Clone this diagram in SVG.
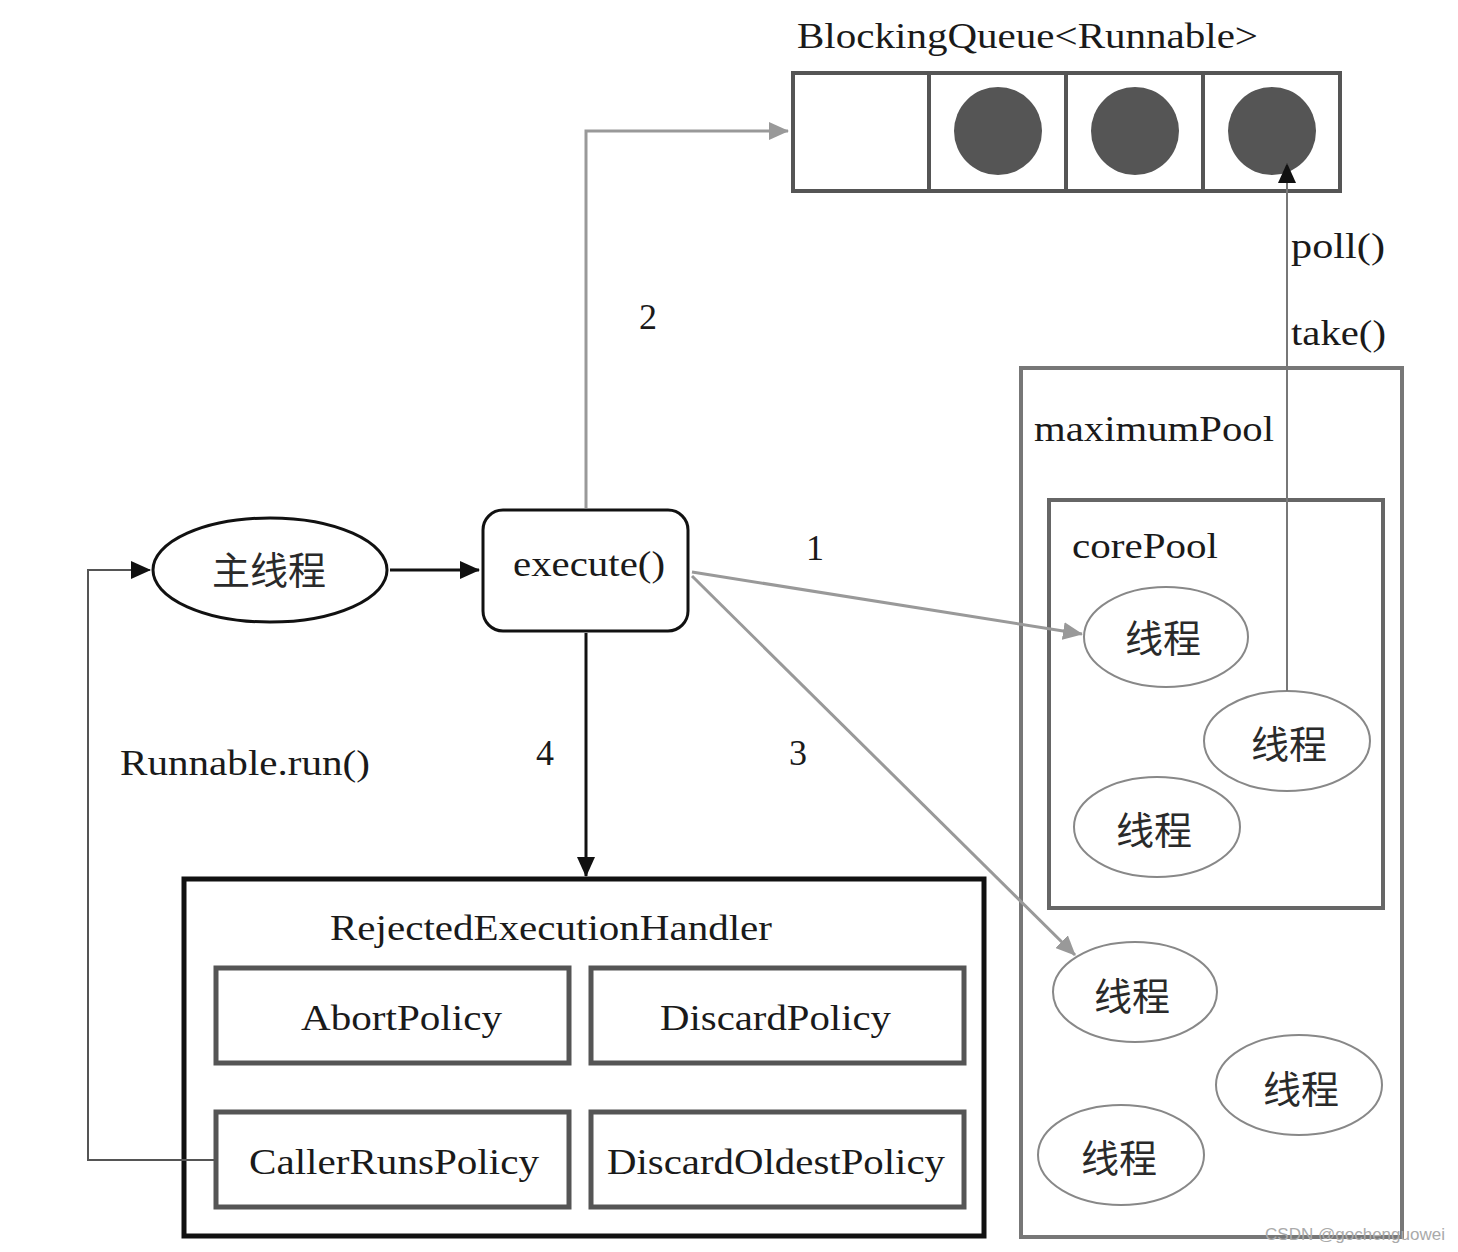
<svg xmlns="http://www.w3.org/2000/svg" width="1458" height="1252" viewBox="0 0 1458 1252">
<style>
text{font-family:"Liberation Serif","Noto Sans CJK SC",serif;fill:#1a1a1a;}
.lbl{font-size:36px;}
.cjk{font-family:"Noto Sans CJK SC",sans-serif;font-size:38px;fill:#2a2a2a;}
.thr{fill:#fff;stroke:#888;stroke-width:2;}
.pol{fill:#fff;stroke:#555;stroke-width:5;}
.gray{stroke:#999;stroke-width:3;fill:none;}
.blk{stroke:#111;stroke-width:3;fill:none;}
</style>
<defs>
<marker id="ag" markerWidth="20" markerHeight="18" refX="19" refY="9" orient="auto" markerUnits="userSpaceOnUse" viewBox="0 0 20 18"><path d="M0,0 L20,9 L0,18 z" fill="#999"/></marker>
<marker id="ab" markerWidth="20" markerHeight="18" refX="19" refY="9" orient="auto" markerUnits="userSpaceOnUse" viewBox="0 0 20 18"><path d="M0,0 L20,9 L0,18 z" fill="#111"/></marker>
</defs>
<rect width="1458" height="1252" fill="#fff"/>

<g id="queue">
<text class="lbl" x="797" y="48" font-size="38" textLength="461" lengthAdjust="spacingAndGlyphs">BlockingQueue&lt;Runnable&gt;</text>
<rect x="793" y="73" width="547" height="118" fill="#fff" stroke="#555" stroke-width="4"/>
<line x1="929" y1="73" x2="929" y2="191" stroke="#555" stroke-width="4"/>
<line x1="1066" y1="73" x2="1066" y2="191" stroke="#555" stroke-width="4"/>
<line x1="1203" y1="73" x2="1203" y2="191" stroke="#555" stroke-width="4"/>
<ellipse cx="998" cy="131" rx="44" ry="44" fill="#555"/>
<ellipse cx="1135" cy="131" rx="44" ry="44" fill="#555"/>
<ellipse cx="1272" cy="131" rx="44" ry="44" fill="#555"/>
</g>

<g id="maximumPool">
<rect x="1021" y="368" width="381" height="869" fill="none" stroke="#777" stroke-width="4"/>
<text class="lbl" x="1034" y="441" textLength="240" lengthAdjust="spacingAndGlyphs">maximumPool</text>
</g>
<g id="corePool">
<rect x="1049" y="500" width="334" height="408" fill="none" stroke="#666" stroke-width="4"/>
<text class="lbl" x="1072" y="558" textLength="146" lengthAdjust="spacingAndGlyphs">corePool</text>
</g>

<g id="thread1"><ellipse class="thr" cx="1166" cy="637" rx="82" ry="50"/><text class="cjk" x="1163" y="652" text-anchor="middle">线程</text></g>
<g id="thread2"><ellipse class="thr" cx="1287" cy="741" rx="83" ry="50"/><text class="cjk" x="1289" y="758" text-anchor="middle">线程</text></g>
<g id="thread3"><ellipse class="thr" cx="1157" cy="827" rx="83" ry="50"/><text class="cjk" x="1154" y="844" text-anchor="middle">线程</text></g>
<g id="thread4"><ellipse class="thr" cx="1135" cy="992" rx="82" ry="50"/><text class="cjk" x="1132" y="1010" text-anchor="middle">线程</text></g>
<g id="thread5"><ellipse class="thr" cx="1299" cy="1085" rx="83" ry="50"/><text class="cjk" x="1301" y="1103" text-anchor="middle">线程</text></g>
<g id="thread6"><ellipse class="thr" cx="1121" cy="1155" rx="83" ry="50"/><text class="cjk" x="1119" y="1172" text-anchor="middle">线程</text></g>

<g id="mainThread">
<ellipse cx="270" cy="570" rx="117" ry="52" fill="#fff" stroke="#111" stroke-width="3"/>
<text class="cjk" x="269" y="584" text-anchor="middle" font-size="40">主线程</text>
</g>

<g id="execute">
<rect x="483" y="510" width="205" height="121" rx="20" fill="#fff" stroke="#111" stroke-width="3"/>
<text class="lbl" x="513" y="576" textLength="152" lengthAdjust="spacingAndGlyphs">execute()</text>
</g>

<g id="handler">
<rect x="184" y="879" width="800" height="357" fill="#fff" stroke="#111" stroke-width="5"/>
<text class="lbl" x="330" y="940" textLength="442" lengthAdjust="spacingAndGlyphs">RejectedExecutionHandler</text>
</g>
<g id="abort"><rect class="pol" x="216" y="968" width="353" height="95"/><text class="lbl" x="301" y="1030" textLength="201" lengthAdjust="spacingAndGlyphs">AbortPolicy</text></g>
<g id="discard"><rect class="pol" x="591" y="968" width="373" height="95"/><text class="lbl" x="660" y="1030" textLength="231" lengthAdjust="spacingAndGlyphs">DiscardPolicy</text></g>
<g id="callerRuns"><rect class="pol" x="216" y="1112" width="353" height="95"/><text class="lbl" x="249" y="1174" textLength="290" lengthAdjust="spacingAndGlyphs">CallerRunsPolicy</text></g>
<g id="discardOldest"><rect class="pol" x="591" y="1112" width="373" height="95"/><text class="lbl" x="607" y="1174" textLength="338" lengthAdjust="spacingAndGlyphs">DiscardOldestPolicy</text></g>

<g id="connectors">
<path class="gray" d="M586,508 L586,131 L788,131" marker-end="url(#ag)"/>
<line class="blk" x1="390" y1="570" x2="479" y2="570" marker-end="url(#ab)"/>
<line class="blk" x1="586" y1="633" x2="586" y2="876" marker-end="url(#ab)"/>
<line class="gray" x1="692" y1="572" x2="1082" y2="634" marker-end="url(#ag)"/>
<line class="gray" x1="692" y1="576" x2="1075" y2="955" marker-end="url(#ag)"/>
<line x1="1287" y1="691" x2="1287" y2="164" stroke="#777" stroke-width="2" marker-end="url(#ab)"/>
<path d="M216,1160 L88,1160 L88,570 L150,570" fill="none" stroke="#555" stroke-width="2" marker-end="url(#ab)"/>
<text class="lbl" x="639" y="329">2</text>
<text class="lbl" x="806" y="560">1</text>
<text class="lbl" x="536" y="765">4</text>
<text class="lbl" x="789" y="765">3</text>
<text class="lbl" x="1291" y="258" textLength="94" lengthAdjust="spacingAndGlyphs">poll()</text>
<text class="lbl" x="1291" y="345" textLength="95" lengthAdjust="spacingAndGlyphs">take()</text>
<text class="lbl" x="120" y="775" textLength="250" lengthAdjust="spacingAndGlyphs">Runnable.run()</text>
</g>
<text x="1265" y="1240" font-size="17" textLength="180" lengthAdjust="spacingAndGlyphs" style="font-family:'Liberation Sans',sans-serif;fill:#aaa">CSDN @gochenguowei</text>
</svg>
